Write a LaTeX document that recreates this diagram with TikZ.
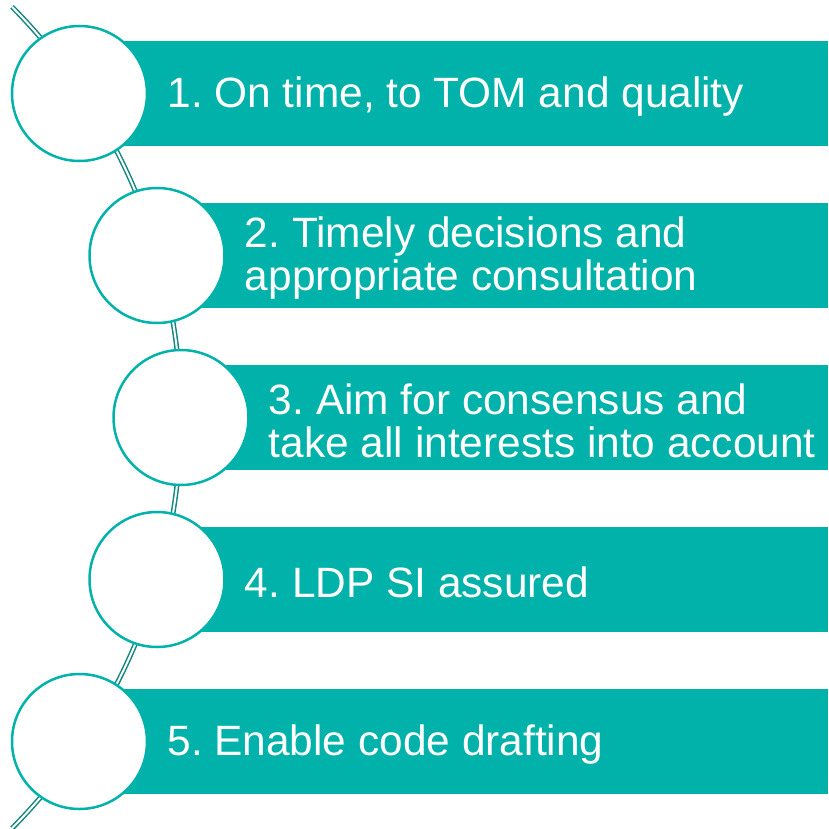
\documentclass[tikz,border=0pt]{standalone}
\usepackage{fontspec}
\setmainfont{Liberation Sans}
\usetikzlibrary{positioning}
\definecolor{barteal}{HTML}{00B2A9}
\definecolor{spineteal}{HTML}{12877F}
\tikzset{
  bar/.style={fill=barteal},
  disc/.style={circle,draw=barteal,fill=white,line width=2.5pt,minimum size=135pt,inner sep=0pt},
  itemtext/.style={align=left,text=white,inner sep=0pt,yshift=-3pt,font=\fontsize{42.4}{43}\selectfont\frenchspacing},
  spine/.style={draw=spineteal,line width=1.5pt,double=white,double distance=2pt}
}
\begin{document}
\begin{tikzpicture}[x=1pt,y=-1pt]
\useasboundingbox (0,0) rectangle (828,829);
\fill[bar] (79.5,41) rectangle (828,146);
\fill[bar] (157,203) rectangle (828,308);
\fill[bar] (181,365) rectangle (828,470);
\fill[bar] (157,527) rectangle (828,632);
\fill[bar] (79.5,689) rectangle (828,794);
\draw[spine] (12,6.8) arc[start angle=-44.7,end angle=44.7,radius=584];
\node[disc] (c1) at (79.5,93.5) {};
\node[disc] (c2) at (157,255.5) {};
\node[disc] (c3) at (181,417.5) {};
\node[disc] (c4) at (157,579.5) {};
\node[disc] (c5) at (79.5,741.5) {};
\node[itemtext,right=19pt of c1] (t1) {1. On time, to TOM and quality};
\node[itemtext,right=19pt of c2] (t2) {2. Timely decisions and\\appropriate consultation};
\node[itemtext,right=19pt of c3] (t3) {3. Aim for consensus and\\take all interests into account};
\node[itemtext,right=19pt of c4] (t4) {4. LDP SI assured};
\node[itemtext,right=19pt of c5] (t5) {5. Enable code drafting};
\end{tikzpicture}
\end{document}
